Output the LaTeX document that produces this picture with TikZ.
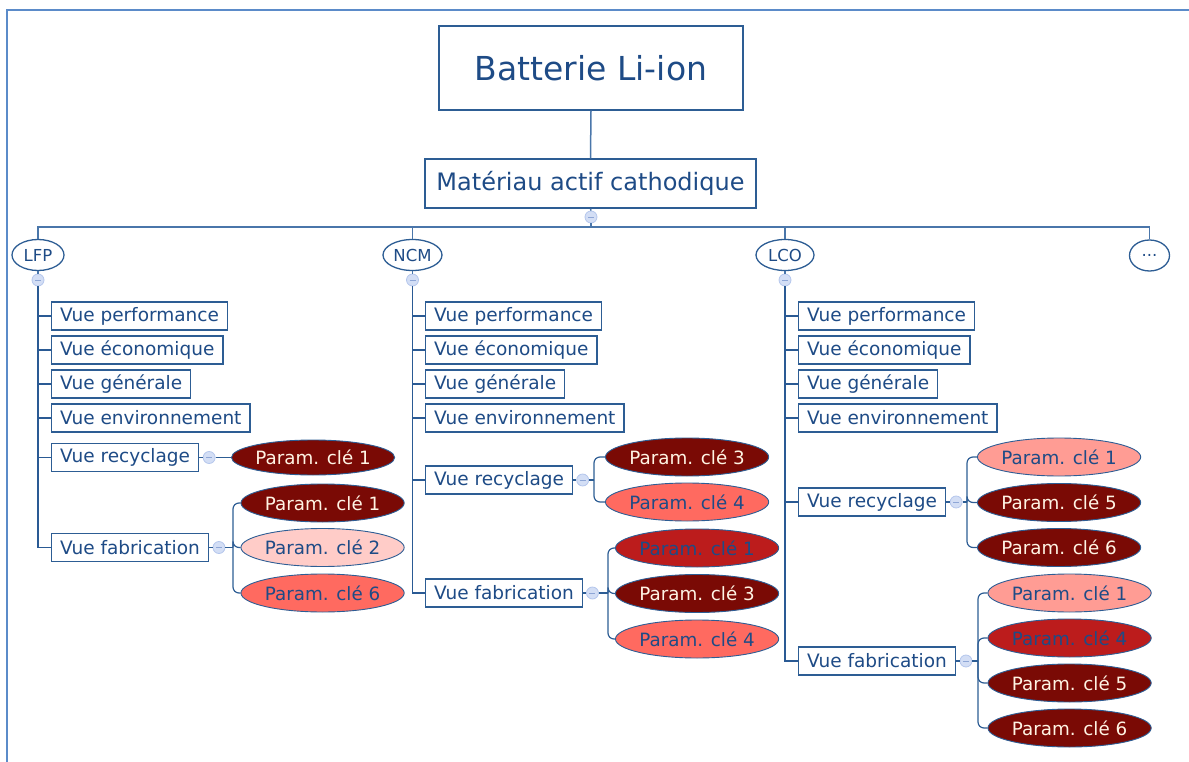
\documentclass[tikz,border=0pt]{standalone}
\usepackage{fontspec}
\setmainfont{DejaVu Sans}
\usetikzlibrary{shapes.geometric}
\definecolor{linecol}{HTML}{4A76AA}
\definecolor{trunkcol}{HTML}{2A5A94}
\definecolor{boxcol}{HTML}{2D5D94}
\definecolor{txtcol}{HTML}{1E4B86}
\definecolor{framecol}{HTML}{5B8BC9}
\definecolor{pdark}{HTML}{7A0A05}
\definecolor{pred}{HTML}{BC1C1C}
\definecolor{psalmon}{HTML}{FF6A60}
\definecolor{ppink}{HTML}{FFCCC8}
\definecolor{plight}{HTML}{FF9C94}
\definecolor{cfill}{HTML}{D3DEF5}
\definecolor{cdraw}{HTML}{B4C6EC}
\definecolor{cminus}{HTML}{8EA6D6}
\definecolor{lighttxt}{HTML}{FFF4E4}
\begin{document}
\begin{tikzpicture}[x=1pt,y=-1pt,
  vue/.style={draw=boxcol, line width=1.3pt, fill=white, text=txtcol, font=\fontsize{18.5}{22}\selectfont, inner xsep=8.5pt, inner ysep=0pt, minimum height=28pt, anchor=west},
  param/.style={ellipse, draw=boxcol, line width=0.9pt, font=\fontsize{18.3}{22}\selectfont, inner sep=0pt, minimum width=137pt, minimum height=38pt, anchor=west},
  pdk/.style={param, fill=pdark, text=lighttxt},
  prd/.style={param, fill=pred, text=txtcol},
  psa/.style={param, fill=psalmon, text=txtcol},
  ppk/.style={param, fill=ppink, text=txtcol},
  plt/.style={param, fill=plight, text=txtcol},
  typ/.style={ellipse, draw=boxcol, line width=1.3pt, fill=white, text=txtcol, font=\fontsize{16.5}{19}\selectfont, inner sep=0pt, minimum width=52pt, minimum height=31pt},
  coll/.style={circle, draw=cdraw, fill=cfill, line width=0.8pt, inner sep=0pt, minimum size=12pt, path picture={\draw[draw=cminus, line width=0.8pt] ([xshift=-3pt]path picture bounding box.center) -- ([xshift=3pt]path picture bounding box.center);}},
  conn/.style={draw=linecol, line width=1.5pt},
  trunk/.style={draw=trunkcol, line width=1.8pt},
  br/.style={draw=boxcol, line width=1.2pt, rounded corners=6pt},
]
\useasboundingbox (0,0) rectangle (1189,762);
\draw[framecol, line width=1.5pt] (7,762) -- (7,10) -- (1189,10);

% top
\node[draw=boxcol, line width=1.3pt, text=txtcol, font=\fontsize{33}{40}\selectfont, minimum width=304pt, minimum height=84pt, inner sep=0pt] (root) at (591,68) {Batterie Li-ion};
\node[draw=boxcol, line width=1.3pt, text=txtcol, font=\fontsize{24}{29}\selectfont, minimum width=331pt, minimum height=49pt, inner sep=0pt] (mat) at (590.5,183.5) {Matériau actif cathodique};
\node[coll] (matc) at (591,217) {};
\coordinate (bus) at (591,227);
\node[typ] (lfp) at (38,255) {LFP};
\node[typ, minimum width=59pt] (ncm) at (412.5,255) {NCM};
\node[typ, minimum width=58pt] (lco) at (785,255) {LCO};
\node[typ, minimum width=40pt] (etc) at (1149.5,255.5) {...};
\node[coll] (lfpc) at (38,280) {};
\node[coll] (ncmc) at (412.5,280) {};
\node[coll] (lcoc) at (785,280) {};

\draw[conn] (root.south) -- (mat.north);
\draw[conn] (mat.south) -- (matc.north);
\draw[conn] (matc.south) -- (bus);
\draw[conn] (bus) -| (lfp.north);
\draw[conn] (bus) -| (ncm.north);
\draw[conn] (bus) -| (lco.north);
\draw[conn] (bus) -| (etc.north);
\draw[conn] (lfp.south) -- (lfpc.north);
\draw[conn] (ncm.south) -- (ncmc.north);
\draw[conn] (lco.south) -- (lcoc.north);

% LFP
\node[vue] (l1) at (51,316) {Vue performance};
\node[vue] (l2) at (51,350) {Vue économique};
\node[vue] (l3) at (51,384) {Vue générale};
\node[vue] (l4) at (51,418) {Vue environnement};
\node[vue] (l5) at (51,457.5) {Vue recyclage};
\node[vue] (l6) at (51,547.5) {Vue fabrication};
\foreach \b in {l1,l2,l3,l4,l5,l6} \draw[trunk] (lfpc.south) |- (\b.west);
\node[coll] (l5c) at ([xshift=10pt]l5.east) {};
\node[pdk, minimum height=35pt] (l5a) at (231,457.5) {Param. clé 1};
\draw[br] (l5.east) -- (l5c.west);
\draw[br] (l5c.east) -- (l5a.west);
\node[coll] (l6c) at ([xshift=10pt]l6.east) {};
\coordinate (l6j) at (233,547.5);
\node[pdk] (l6a) at (240.5,503) {Param. clé 1};
\node[ppk] (l6b) at (240.5,547.5) {Param. clé 2};
\node[psa] (l6d) at (240.5,593) {Param. clé 6};
\draw[br] (l6.east) -- (l6c.west);
\draw[br] (l6c.east) -- (l6j);
\foreach \e in {l6a,l6b,l6d} \draw[br] (l6j) |- (\e.west);

% NCM
\node[vue] (n1) at (425,316) {Vue performance};
\node[vue] (n2) at (425,350) {Vue économique};
\node[vue] (n3) at (425,384) {Vue générale};
\node[vue] (n4) at (425,418) {Vue environnement};
\node[vue] (n5) at (425,480) {Vue recyclage};
\node[vue] (n6) at (425,593) {Vue fabrication};
\foreach \b in {n1,n2,n3,n4,n5,n6} \draw[trunk] (ncmc.south) |- (\b.west);
\node[coll] (n5c) at ([xshift=9.5pt]n5.east) {};
\coordinate (n5j) at (594,480);
\node[pdk] (n5a) at (605,457) {Param. clé 3};
\node[psa] (n5b) at (605,502) {Param. clé 4};
\draw[br] (n5.east) -- (n5c.west);
\draw[br] (n5c.east) -- (n5j);
\foreach \e in {n5a,n5b} \draw[br] (n5j) |- (\e.west);
\node[coll] (n6c) at ([xshift=9.5pt]n6.east) {};
\coordinate (n6j) at (608,593);
\node[prd] (n6a) at (615,548) {Param. clé 1};
\node[pdk] (n6b) at (615,593.5) {Param. clé 3};
\node[psa] (n6d) at (615,639) {Param. clé 4};
\draw[br] (n6.east) -- (n6c.west);
\draw[br] (n6c.east) -- (n6j);
\foreach \e in {n6a,n6b,n6d} \draw[br] (n6j) |- (\e.west);

% LCO
\node[vue] (c1) at (798,316) {Vue performance};
\node[vue] (c2) at (798,350) {Vue économique};
\node[vue] (c3) at (798,384) {Vue générale};
\node[vue] (c4) at (798,418) {Vue environnement};
\node[vue] (c5) at (798,502) {Vue recyclage};
\node[vue] (c6) at (798,661) {Vue fabrication};
\foreach \b in {c1,c2,c3,c4,c5,c6} \draw[trunk] (lcoc.south) |- (\b.west);
\node[coll] (c5c) at ([xshift=10pt]c5.east) {};
\coordinate (c5j) at (967,502);
\node[plt] (c5a) at (977,457) {Param. clé 1};
\node[pdk] (c5b) at (977,502.5) {Param. clé 5};
\node[pdk] (c5d) at (977,547.5) {Param. clé 6};
\draw[br] (c5.east) -- (c5c.west);
\draw[br] (c5c.east) -- (c5j);
\foreach \e in {c5a,c5b,c5d} \draw[br] (c5j) |- (\e.west);
\node[coll] (c6c) at ([xshift=10pt]c6.east) {};
\coordinate (c6j) at (978,661);
\node[plt] (c6a) at (987.5,593) {Param. clé 1};
\node[prd] (c6b) at (987.5,638) {Param. clé 4};
\node[pdk] (c6d) at (987.5,683) {Param. clé 5};
\node[pdk] (c6e) at (987.5,728) {Param. clé 6};
\draw[br] (c6.east) -- (c6c.west);
\draw[br] (c6c.east) -- (c6j);
\foreach \e in {c6a,c6b,c6d,c6e} \draw[br] (c6j) |- (\e.west);
\end{tikzpicture}
\end{document}
